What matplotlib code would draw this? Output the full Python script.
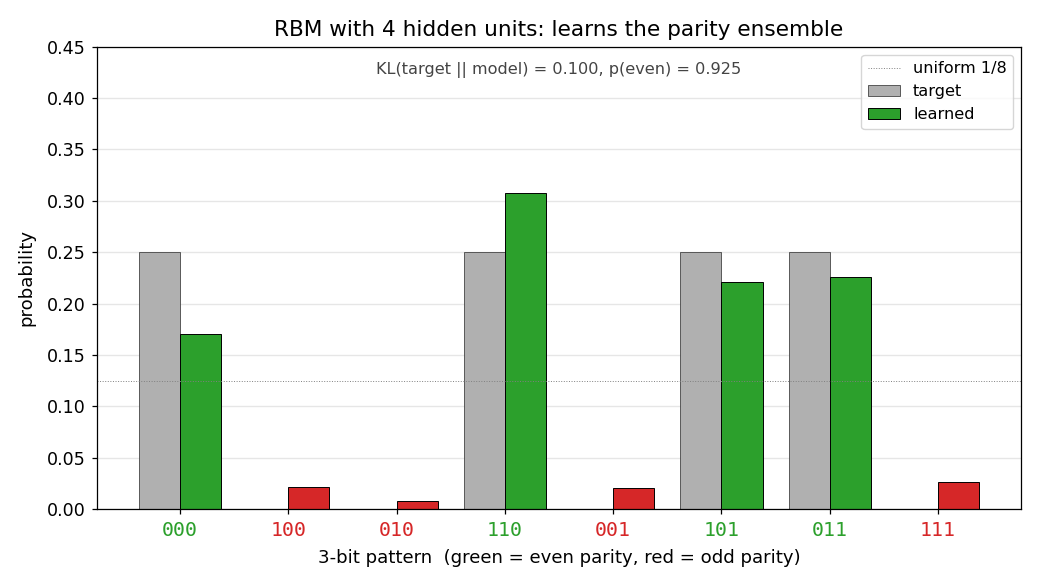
import numpy as np
import matplotlib.pyplot as plt

# 3-bit patterns and probabilities
patterns = ['000', '100', '010', '110', '001', '101', '011', '111']
target = [0.25, 0.0, 0.0, 0.25, 0.0, 0.25, 0.25, 0.0]
learned = [0.170, 0.021, 0.008, 0.308, 0.020, 0.221, 0.226, 0.026]
even = [p.count('1') % 2 == 0 for p in patterns]

green = '#2ca02c'
red = '#d62728'

plt.rcParams['axes.linewidth'] = 0.9
plt.rcParams['xtick.major.width'] = 0.9
plt.rcParams['ytick.major.width'] = 0.9
plt.rcParams['xtick.major.size'] = 3.9
plt.rcParams['ytick.major.size'] = 3.9
plt.rcParams['xtick.major.pad'] = 4.5
plt.rcParams['ytick.major.pad'] = 3.9

fig, ax = plt.subplots(figsize=(10.4, 5.85), dpi=100)
x = np.arange(len(patterns))
w = 0.38

ax.bar(x - w / 2, target, w, color='#b0b0b0', edgecolor='#444444', linewidth=0.6, label='target')
learned_colors = [green if e else red for e in even]
ax.bar(x + w / 2, learned, w, color=learned_colors, edgecolor='black', linewidth=0.7)
# legend handle for learned
ax.bar([0], [0], 0, color=green, edgecolor='black', linewidth=0.7, label='learned')
ax.axhline(1 / 8, color='gray', linestyle=':', linewidth=0.7, label='uniform 1/8')

ax.set_xticks(x)
ax.set_xticklabels(patterns, fontfamily='DejaVu Sans Mono', fontsize=14.3)
for lbl, e in zip(ax.get_xticklabels(), even):
    lbl.set_color(green if e else red)
ax.tick_params(axis='y', labelsize=12.6)
ax.set_ylim(0, 0.45)
ax.set_yticks(np.arange(0, 0.451, 0.05))
ax.yaxis.grid(True, color='#e6e6e6', linewidth=1)
ax.set_axisbelow(True)

ax.set_xlabel('3-bit pattern  (green = even parity, red = odd parity)', fontsize=13.1, labelpad=6.5)
ax.set_ylabel('probability', fontsize=13.1, labelpad=8.5)
ax.set_title('RBM with 4 hidden units: learns the parity ensemble', fontsize=15.6, pad=8)

p_even = sum(l for l, e in zip(learned, even) if e)
ax.text(0.5, 0.968, f'KL(target || model) = 0.100, p(even) = {p_even:.3f}',
        transform=ax.transAxes, ha='center', va='top', fontsize=11.6, color='#444444')

handles, labels = ax.get_legend_handles_labels()
order = [labels.index('uniform 1/8'), labels.index('target'), labels.index('learned')]
ax.legend([handles[i] for i in order], [labels[i] for i in order], loc='upper right', fontsize=11.6)

plt.subplots_adjust(left=0.093, right=0.982, top=0.92, bottom=0.13)
plt.savefig('out.png', dpi=100)
